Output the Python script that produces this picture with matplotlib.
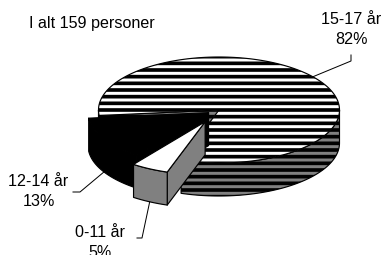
import numpy as np
import matplotlib
matplotlib.use('Agg')
import matplotlib.pyplot as plt
from matplotlib.patches import Polygon

# ---- data ----
labels = ["0-11 år", "12-14 år", "15-17 år"]
counts = [8, 21, 130]
title_text = "I alt 159 personer"

# ---- styling / layout ----
W, H, DPI = 385, 255, 120
plt.rcParams['font.family'] = ['Liberation Sans', 'DejaVu Sans']
plt.rcParams['hatch.linewidth'] = 2.2
FS = 9.7

fig = plt.figure(figsize=(W / DPI, H / DPI), dpi=DPI)
ax = fig.add_axes([0, 0, 1, 1])
ax.set_xlim(0, W)
ax.set_ylim(H, 0)
ax.axis('off')

cx0, cy0, a, b, depth = 219, 110, 120.5, 53, 33
start = 186.0                     # slices laid out clockwise from here
clockwise_order = [2, 0, 1]       # 15-17, 0-11, 12-14
draw_order = [2, 1, 0]
explode = {0: 0.25, 1: 0.10, 2: 0.0}
top_fc = {0: 'white', 1: 'black', 2: 'white'}
side_fc = {0: '#808080', 1: 'black', 2: '#808080'}
hatches = {0: None, 1: None, 2: '---'}
text_pos = {2: (351, 12.5), 1: (38.5, 174.5), 0: (100, 225)}
elbows = {2: [(351, 55), (351, 61)],
          1: [(73, 192), (80, 192)],
          0: [(137, 238), (142, 238)]}

total = sum(counts)
angles = {}
cur = start
for i in clockwise_order:
    t2 = cur
    t1 = cur - 360.0 * counts[i] / total
    angles[i] = (t1, t2)
    cur = t1


def pt(cx, cy, th, dz=0.0):
    r = np.radians(th)
    return cx + a * np.cos(r), cy - b * np.sin(r) + dz


def arc(cx, cy, s, e, dz=0.0, n=None):
    if n is None:
        n = max(2, int(abs(e - s) / 1.5) + 2)
    th = np.linspace(s, e, n)
    r = np.radians(th)
    return np.column_stack([cx + a * np.cos(r), cy - b * np.sin(r) + dz])


def add_poly(xy, fc, hatch):
    ax.add_patch(Polygon(xy, closed=True, facecolor=fc, edgecolor='black',
                         lw=0.7, hatch=hatch, joinstyle='round'))


centers = {}
for i in draw_order:
    t1, t2 = angles[i]
    mid = 0.5 * (t1 + t2)
    r = explode[i]
    cx = cx0 + a * r * np.cos(np.radians(mid))
    cy = cy0 - b * r * np.sin(np.radians(mid))
    centers[i] = (cx, cy)
    # radial faces
    faces = []
    if np.cos(np.radians(t2)) < 0:
        faces.append(t2)
    if np.cos(np.radians(t1)) > 0:
        faces.append(t1)
    for t in faces:
        p = pt(cx, cy, t)
        add_poly([(cx, cy), p, (p[0], p[1] + depth), (cx, cy + depth)],
                 side_fc[i], hatches[i])
    # outer wall (front half only)
    for k in (-1, 0, 1):
        lo = max(t1, -180 + 360 * k)
        hi = min(t2, 360 * k)
        if hi > lo:
            top = arc(cx, cy, lo, hi)
            bot = arc(cx, cy, hi, lo, dz=depth)
            add_poly(np.vstack([top, bot]), side_fc[i], hatches[i])
    # top face
    add_poly(np.vstack([[(cx, cy)], arc(cx, cy, t1, t2)]), top_fc[i], hatches[i])

# ---- labels with leader lines ----
for i in range(len(labels)):
    t1, t2 = angles[i]
    mid = 0.5 * (t1 + t2)
    cx, cy = centers[i]
    dz = depth if np.sin(np.radians(mid)) < 0 else 0.0
    anchor = pt(cx, cy, mid, dz)
    pts = elbows[i] + [anchor]
    ax.plot([p[0] for p in pts], [p[1] for p in pts], color='black', lw=0.6)
    pct = round(100.0 * counts[i] / total)
    x, y = text_pos[i]
    ax.text(x, y, f"{labels[i]}\n{pct}%", ha='center', va='top',
            fontsize=FS, linespacing=1.38, color='black')

ax.text(29, 28, title_text, ha='left', va='baseline', fontsize=FS, color='black')

fig.savefig('out.png', dpi=DPI, facecolor='white')
